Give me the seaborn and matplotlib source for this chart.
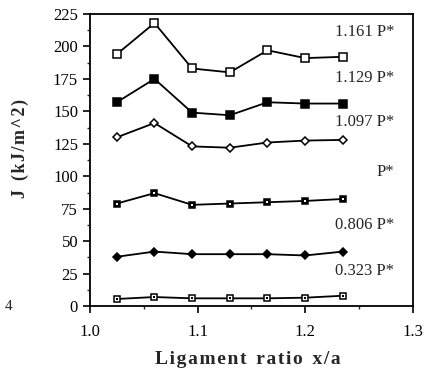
import numpy as np
import pandas as pd
import matplotlib
matplotlib.use("Agg")
import matplotlib.pyplot as plt
import seaborn as sns
from matplotlib.ticker import MultipleLocator, FormatStrFormatter

# données
ratio = [1.025, 1.06, 1.095, 1.13, 1.165, 1.2, 1.235]
j_1161 = [194, 218, 183, 180, 197, 191, 192]
j_1129 = [157, 175, 149, 147, 157, 156, 156]
j_1097 = [130, 141, 123, 122, 126, 127.5, 128]
j_1000 = [79, 87, 78, 79, 80, 81, 82.5]
j_0806 = [38, 42, 40, 40, 40, 39, 42]
j_0323 = [5.5, 7, 6, 6, 6, 6.5, 8]

labels = ["1.161 P*", "1.129 P*", "1.097 P*", "P*", "0.806 P*", "0.323 P*"]
label_y = [211, 176, 142, 103, 62.5, 27]

sns.set_style("ticks")
plt.rcParams["font.family"] = ["Liberation Serif", "DejaVu Serif"]

fig = plt.figure(figsize=(4.26, 3.77), dpi=100)
ax = fig.add_axes([0.211, 0.188, 0.758, 0.775])

series = [j_1161, j_1129, j_1097, j_1000, j_0806, j_0323]
styles = [
    dict(marker="s", markersize=5.5, markerfacecolor="white"),
    dict(marker="s", markersize=5.5, markerfacecolor="black"),
    dict(marker="D", markersize=3.8, markerfacecolor="white"),
    dict(marker="s", markersize=5, markerfacecolor="black"),
    dict(marker="D", markersize=3.8, markerfacecolor="black"),
    dict(marker="s", markersize=5, markerfacecolor="white"),
]

for vals, st in zip(series, styles):
    df = pd.DataFrame({"x": ratio, "J": vals})
    sns.lineplot(data=df, x="x", y="J", ax=ax, color="black", linewidth=1.3,
                 markeredgecolor="black", markeredgewidth=1.1, **st)

# petit point au centre des carrés pointés
for vals, c in [(j_1000, "white"), (j_0323, "black")]:
    sns.scatterplot(x=ratio, y=vals, ax=ax, marker="s", s=2, color=c,
                    edgecolor=c, linewidth=0, zorder=5)

for lab, yy in zip(labels, label_y):
    ax.text(1.283, yy, lab, ha="right", va="center", fontsize=12)

ax.set_xlim(1.0, 1.3)
ax.set_ylim(0, 225)
ax.xaxis.set_major_locator(MultipleLocator(0.1))
ax.xaxis.set_minor_locator(MultipleLocator(0.05))
ax.yaxis.set_major_locator(MultipleLocator(25))
ax.yaxis.set_minor_locator(MultipleLocator(12.5))
ax.xaxis.set_major_formatter(FormatStrFormatter("%.1f"))
ax.tick_params(axis="both", which="major", direction="out", length=5, width=1.2,
               labelsize=12, colors="black")
ax.tick_params(axis="both", which="minor", direction="out", length=2.5, width=1)
ax.tick_params(axis="x", pad=8)

for sp in ax.spines.values():
    sp.set_visible(True)
    sp.set_linewidth(1.3)
    sp.set_color("black")

hs = "\u200a"
ax.set_xlabel(hs.join("Ligament") + "  " + hs.join("ratio") + "  " + hs.join("x/a"),
              fontsize=14, fontweight="bold")
ax.set_ylabel(hs.join("J") + "  " + hs.join("(kJ/m^2)"), fontsize=13, fontweight="bold")
ax.xaxis.set_label_coords(0.49, -0.155)
ax.yaxis.set_label_coords(-0.19, 0.54)

fig.text(0.012, 0.188, "4", fontsize=11, va="center")

fig.savefig("out.png", dpi=100)
